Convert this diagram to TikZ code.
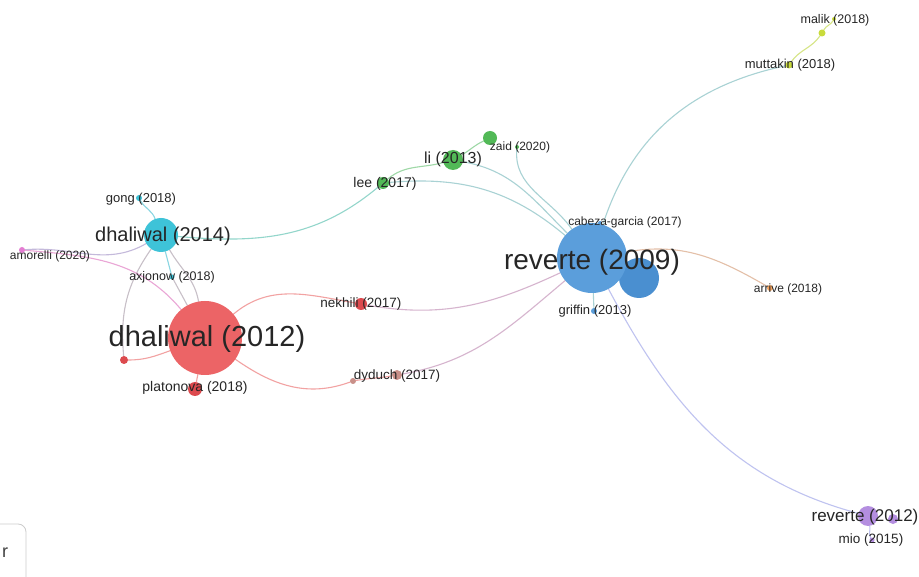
\documentclass[tikz,border=0pt]{standalone}
\usepackage{fontspec}
\setmainfont{Liberation Sans}
\usetikzlibrary{backgrounds}
\definecolor{cRed}{HTML}{EC6466}
\definecolor{cRedD}{HTML}{DC4A4E}
\definecolor{cCyan}{HTML}{3EC3D8}
\definecolor{cBlue}{HTML}{5B9EDB}
\definecolor{cBlueD}{HTML}{4A8FD0}
\definecolor{cGreen}{HTML}{52B957}
\definecolor{cYel}{HTML}{C9DB3C}
\definecolor{cOrange}{HTML}{F4A35E}
\definecolor{cPurple}{HTML}{B48EE0}
\definecolor{cPink}{HTML}{E47DD2}
\definecolor{cBrown}{HTML}{C99089}
\definecolor{eGreen}{HTML}{9ED8A6}
\definecolor{eTeal}{HTML}{93D6CB}
\definecolor{eBG}{HTML}{A9D2D4}
\definecolor{eRed}{HTML}{F2A2A2}
\definecolor{ePL}{HTML}{D6B4CE}
\definecolor{eLav}{HTML}{BFC3F0}
\definecolor{eOr}{HTML}{E4C0A8}
\definecolor{eYel}{HTML}{D6E585}
\definecolor{eCyan}{HTML}{8AD6E2}
\definecolor{ePink}{HTML}{EAA6D6}
\definecolor{eGray}{HTML}{C8C0C8}
\begin{document}
\begin{tikzpicture}[x=1pt,y=-1pt]
\tikzset{
  dot/.style={circle, inner sep=0pt, draw=none},
  lbl/.style={font=\fontsize{13}{15}\selectfont, text=black!85, inner sep=0pt},
  edge/.style={line width=1.1pt, line cap=round},
}
\useasboundingbox (0,0) rectangle (919,577);
% nodes
\node[dot, fill=cRed, minimum size=74pt] (d12) at (205,338) {};
\node[dot, fill=cCyan, minimum size=34pt] (d14) at (161,235) {};
\node[dot, fill=cCyan, minimum size=6pt] (gong) at (139,198) {};
\node[dot, fill=cPink, minimum size=6pt] (amo) at (22,250) {};
\node[dot, fill=cCyan, minimum size=5pt] (axj) at (172,277) {};
\node[dot, fill=cRedD, minimum size=8pt] (rdot) at (124,360) {};
\node[dot, fill=cRedD, minimum size=14pt] (plat) at (195,389) {};
\node[dot, fill=cRedD, minimum size=12pt] (nek) at (361,304) {};
\node[dot, fill=cBrown, minimum size=10pt] (dyd) at (397,375) {};
\node[dot, fill=cBrown, minimum size=6pt] (dyds) at (353,381) {};
\node[dot, fill=cGreen, minimum size=12pt] (lee) at (383,183) {};
\node[dot, fill=cGreen, minimum size=20pt] (li) at (453,160) {};
\node[dot, fill=cGreen, minimum size=14pt] (zaid) at (490,138) {};
\node[dot, fill=cGreen, minimum size=4pt] (zaids) at (517,147) {};
\node[dot, fill=cBlueD, minimum size=40pt] (rev2) at (639,278) {};
\node[dot, fill=cBlue, minimum size=70pt] (rev) at (592,258) {};
\node[dot, fill=cBlue, minimum size=4pt] (cab) at (600,223) {};
\node[dot, fill=cBlue, minimum size=6pt] (grif) at (594,311) {};
\node[dot, fill=cOrange, minimum size=6pt] (arr) at (770,288) {};
\node[dot, fill=cYel, minimum size=7pt] (mut) at (789,65) {};
\node[dot, fill=cYel, minimum size=7pt] (mal) at (822,33) {};
\node[dot, fill=cYel, minimum size=4pt] (mals) at (834,19) {};
\node[dot, fill=cPurple, minimum size=20pt] (r12) at (868,516) {};
\node[dot, fill=cPurple, minimum size=10pt] (r12s) at (893,519) {};
\node[dot, fill=cPurple, minimum size=5pt] (mio) at (872,540) {};
% edges
\begin{pgfonlayer}{background}
\fill[white] (0,0) rectangle (919,577);
\draw[edge, eTeal] (d14) to[out=-5, in=220] (lee);
\draw[edge, eGreen] (lee) to[out=40, in=195] (li);
\draw[edge, eGreen] (li) to[out=30, in=205] (zaid);
\draw[edge, eBG] (lee) to[out=5, in=140] (rev);
\draw[edge, eBG] (li) to[out=-10, in=135] (rev);
\draw[edge, eBG] (zaids) to[out=-95, in=125] (rev);
\draw[edge, eBG] (rev) to[out=72, in=192] (mut);
\draw[edge, eYel] (mut) to[out=55, in=235] (mal);
\draw[edge, eYel] (mal) to[out=60, in=240] (mals);
\draw[edge, eOr] (rev) to[out=10, in=150] (arr);
\draw[edge, eLav] (rev) to[out=-62, in=165] (r12);
\draw[edge, eLav] (r12) to[out=-80, in=120] (mio);
\draw[edge, eBG] (rev) -- (grif);
\draw[edge, ePL] (nek) to[out=-10, in=205] (rev);
\draw[edge, ePL] (dyd) to[out=10, in=220] (rev);
\draw[edge, eRed] (d12) to[out=40, in=170] (nek);
\draw[edge, eRed] (d12) to[out=-35, in=200] (dyds);
\draw[edge, eRed] (dyds) to[out=10, in=190] (dyd);
\draw[edge, eRed] (rdot) to[out=0, in=200] (d12);
\draw[edge, eGray] (rdot) to[out=95, in=235] (d14);
\draw[edge, ePink] (amo) to[out=-5, in=130] (d12);
\draw[edge, ePink!60!eCyan] (amo) to[out=5, in=210] (d14);
\draw[edge, eCyan] (gong) to[out=-60, in=110] (d14);
\draw[edge, eCyan] (axj) -- (d14);
\draw[edge, eGray] (d14) to[out=-60, in=100] (d12);
\draw[edge, eGray] (axj) -- (d12);
\draw[edge, eRed] (d12) -- (plat);
\end{pgfonlayer}
% labels
\node[lbl, font=\fontsize{29}{33}\selectfont] (d12l) at (207,339) {dhaliwal (2012)};
\node[lbl, font=\fontsize{20}{24}\selectfont] (d14l) at (163,236) {dhaliwal (2014)};
\node[lbl, font=\fontsize{28}{32}\selectfont] (revl) at (592,262) {reverte (2009)};
\node[lbl, font=\fontsize{17}{20}\selectfont] (r12l) at (865,517) {reverte (2012)};
\node[lbl, font=\fontsize{16}{19}\selectfont] (lil) at (453,159) {li (2013)};
\node[lbl] (gongl) at (141,199) {gong (2018)};
\node[lbl, font=\fontsize{12}{14}\selectfont] (amol) at (50,256) {amorelli (2020)};
\node[lbl, font=\fontsize{12.5}{14}\selectfont] (axjl) at (172,277) {axjonow (2018)};
\node[lbl, font=\fontsize{14}{16}\selectfont] (platl) at (195,388) {platonova (2018)};
\node[lbl, font=\fontsize{13.5}{16}\selectfont] (nekl) at (361,304) {nekhili (2017)};
\node[lbl, font=\fontsize{13.5}{16}\selectfont] (dydl) at (397,376) {dyduch (2017)};
\node[lbl, font=\fontsize{14}{16}\selectfont] (leel) at (385,184) {lee (2017)};
\node[lbl, font=\fontsize{12}{14}\selectfont] (zaidl) at (520,147) {zaid (2020)};
\node[lbl, font=\fontsize{12}{14}\selectfont] (cabl) at (625,222) {cabeza-garcia (2017)};
\node[lbl] (grifl) at (595,311) {griffin (2013)};
\node[lbl, font=\fontsize{12}{14}\selectfont] (arrl) at (788,289) {arrive (2018)};
\node[lbl] (mutl) at (790,65) {muttakin (2018)};
\node[lbl, font=\fontsize{12.5}{14}\selectfont] (mall) at (835,20) {malik (2018)};
\node[lbl, font=\fontsize{13.5}{16}\selectfont] (miol) at (871,540) {mio (2015)};
% partial legend box
\draw[black!20, rounded corners=8pt, line width=0.8pt] (-20,524) rectangle (26,600);
\node[font=\fontsize{18}{20}\selectfont, text=black!75, inner sep=0pt] (legr) at (5,553) {r};
\end{tikzpicture}
\end{document}
